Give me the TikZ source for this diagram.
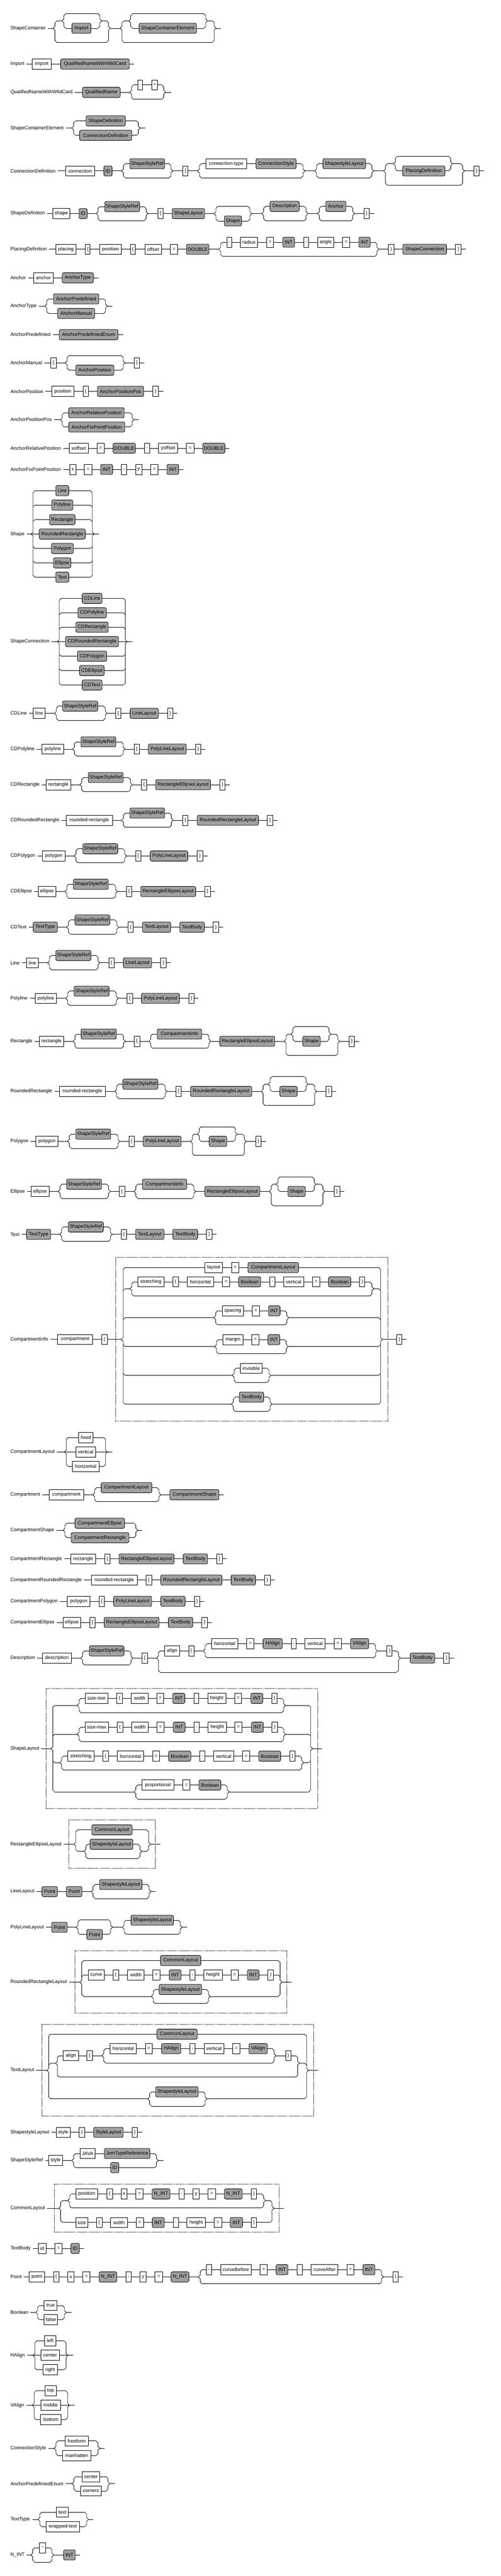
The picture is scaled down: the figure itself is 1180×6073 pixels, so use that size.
\documentclass[tikz,border=0pt]{standalone}
\usepackage{fontspec}
\setmainfont{Liberation Sans}
\definecolor{ntgray}{RGB}{160,160,160}
\newcounter{nd}
\newcommand\fs{\fontsize{11.5pt}{13pt}\selectfont}
\tikzset{
 ln/.style={line width=1pt},
 tm/.style={draw,line width=1pt,fill=white,minimum height=24pt,inner xsep=0.5pt,inner ysep=0pt,font=\fs},
 nt/.style={tm,fill=ntgray,rounded corners=3.5pt},
 lab/.style={anchor=west,inner sep=0pt,font=\fs},
 grp/.style={line width=0.8pt,dash pattern=on 2pt off 1.5pt}
}
\newcommand\Tb[4]{\stepcounter{nd}\pgfmathsetmacro\bw{#2-#1}\pgfmathsetmacro\bx{(#1+#2)/2}\node[tm,minimum width=\bw pt] (n\arabic{nd}) at (\bx,#3) {#4};}
\newcommand\Nb[4]{\stepcounter{nd}\pgfmathsetmacro\bw{#2-#1}\pgfmathsetmacro\bx{(#1+#2)/2}\node[nt,minimum width=\bw pt] (n\arabic{nd}) at (\bx,#3) {#4};}
\newcommand\Hl[3]{\draw[ln] (#1,#3) -- (#2,#3);}
\newcommand\Lab[3]{\stepcounter{nd}\edef\nm{lab\arabic{nd}}\node[lab] (\nm) at (24.5,#1) {#2};\draw[ln] ([xshift=5pt]\nm.east) -- (#3,#1);}
\newcommand\LBr[4]{\draw[ln] (#1+4.5,#3) -- (#1,#3+4.5) -- (#1,#2-4.5) -- (#1-4.5,#2) -- (#1,#2+4.5) -- (#1,#4-4.5) -- (#1+4.5,#4);}
\newcommand\RBr[4]{\draw[ln] (#1-4.5,#3) -- (#1,#3+4.5) -- (#1,#2-4.5) -- (#1+4.5,#2) -- (#1,#2+4.5) -- (#1,#4-4.5) -- (#1-4.5,#4);}
\newcommand\Brc[5]{\LBr{#1}{#3}{#4}{#5}\RBr{#2}{#3}{#4}{#5}}
\newcommand\Brl[5]{\Brc{#1}{#2}{#3}{#4}{#5}\Hl{#1+4.5}{#2-4.5}{#4}\Hl{#1+4.5}{#2-4.5}{#5}}
\newcommand\TkA[3]{\draw[ln] (#1+4.5,#3) -- (#1,#3+4.5); \draw[ln] (#2-4.5,#3) -- (#2,#3+4.5);}
\newcommand\TkB[3]{\draw[ln] (#1,#3-4.5) -- (#1+4.5,#3); \draw[ln] (#2,#3-4.5) -- (#2-4.5,#3);}
\newcommand\AltA[3]{\Hl{#1+4.5}{#2-4.5}{#3}\TkA{#1}{#2}{#3}}
\newcommand\AltB[3]{\Hl{#1+4.5}{#2-4.5}{#3}\TkB{#1}{#2}{#3}}
\newcommand\AltC[3]{\Hl{#1-4.5}{#2+4.5}{#3}}
\begin{document}
\begin{tikzpicture}[x=1pt,y=-1pt]
\fill[white] (0,0) rectangle (1180,6073);
\useasboundingbox (0,0) rectangle (1180,6073);
% ShapeContainer
\Lab{66.7}{ShapeContainer}{125}
\Brc{129.5}{255.7}{66.7}{49.3}{100}
\Hl{134}{146}{49.3}\Hl{239.8}{251.2}{49.3}\Hl{134}{251.2}{100}
\Brc{150.5}{235.3}{49.3}{32.3}{66.7}
\Hl{155}{230.8}{32.3}\Hl{155}{230.8}{66.7}
\Nb{169.6}{214.3}{66.7}{Import}
\Hl{260.2}{283.1}{66.7}
\Brc{287.6}{505}{66.7}{49.3}{100}
\Hl{292.1}{303.5}{49.3}\Hl{489.2}{500.5}{49.3}\Hl{292.1}{500.5}{100}
\Brc{308}{484.7}{49.3}{32.3}{66.7}
\Hl{312.5}{480.2}{32.3}\Hl{312.5}{480.2}{66.7}
\Nb{327.8}{463}{66.7}{ShapeContainerElement}
\Hl{509.5}{521}{66.7}
% Import
\Lab{151}{Import}{316.3}
\Tb{75.9}{121.2}{151}{import}
\Nb{142.9}{304.8}{151}{QualifiedNameWithWildCard}
% QualifiedNameWithWildCard
\Lab{217.7}{QualifiedNameWithWildCard}{305.5}
\Nb{194.5}{283.2}{217.7}{QualifiedName}
\Brl{310}{385.8}{217.7}{200.3}{234.3}
\Tb{324.6}{336.1}{200.3}{.}\Tb{357.8}{371.2}{200.3}{*}
\Hl{390.3}{403}{217.7}
% ShapeContainerElement
\Lab{302}{ShapeContainerElement}{169}
\Brl{173.5}{326}{302}{285}{319}
\Nb{202.8}{295.3}{285}{ShapeDefinition}
\Nb{187.5}{310.6}{319}{ConnectionDefinition}
\Hl{330.5}{342.5}{302}
% ConnectionDefinition
\Lab{403}{ConnectionDefinition}{286.3}
\Tb{154.3}{223.2}{403}{connection}
\Nb{244.9}{264}{403}{ID}
\Brl{290.8}{403}{403}{386}{419.3}
\Nb{306}{387.8}{386}{ShapeStyleRef}
\Hl{407.5}{465.5}{403}
\Tb{431}{443.2}{403}{\{}
\Brl{470}{714.2}{403}{386}{419.3}
\Tb{484.7}{581}{386}{connection-type}
\Nb{603.3}{697.7}{386}{ConnectionStyle}
\Hl{718.7}{741.3}{403}
\Brl{745.8}{876.3}{403}{386}{419.3}
\Nb{760.9}{861.3}{386}{ShapestyleLayout}
\Hl{880.8}{903.9}{403}
\Brc{908.4}{1090}{403}{386}{436.7}
\Hl{912.9}{927.2}{386}\Hl{1066.5}{1085.5}{386}\Hl{912.9}{1085.5}{436.7}
\Brc{931.7}{1062}{386}{368.7}{403}
\Hl{936.2}{1057.5}{368.7}\Hl{936.2}{1057.5}{403}
\Nb{948.7}{1048.3}{403}{PlacingDefinition}
\Hl{1094.5}{1140.5}{403}
\Tb{1116.3}{1129.4}{403}{\}}
% ShapeDefinition
\Lab{503.5}{ShapeDefinition}{226.4}
\Tb{124.4}{164.5}{503.5}{shape}
\Nb{186.2}{205.4}{503.5}{ID}
\Brl{230.9}{344.4}{503.5}{487}{520}
\Nb{246.8}{329}{487}{ShapeStyleRef}
\Hl{348.9}{504.5}{503.5}
\Tb{371.8}{384.6}{503.5}{\{}
\Nb{405.6}{482.1}{503.5}{ShapeLayout}
\Brl{509}{589}{503.5}{486.5}{521}
\Nb{528.7}{568.9}{521}{Shape}
\Hl{593.5}{616.8}{503.5}
\Brl{621.3}{721.3}{503.5}{486.5}{520.5}
\Nb{636.3}{705.1}{486.5}{Description}
\Hl{725.8}{748.1}{503.5}
\Brl{752.6}{831.3}{503.5}{486.5}{520.5}
\Nb{767.6}{815}{486.5}{Anchor}
\Hl{835.8}{881.5}{503.5}
\Tb{857.4}{870.4}{503.5}{\}}
% PlacingDefinition
\Lab{587.7}{PlacingDefinition}{515.3}
\Tb{131.4}{179.2}{587.7}{placing}
\Tb{201.5}{212.4}{587.7}{\{}
\Tb{234.7}{286.4}{587.7}{position}
\Tb{308}{318.9}{587.7}{(}
\Tb{341.2}{380.7}{587.7}{offset}
\Tb{401.8}{418.4}{587.7}{=}
\Nb{439.4}{492.3}{587.7}{DOUBLE}
\Brl{519.8}{888.2}{587.7}{571}{604.3}
\Tb{534.4}{545.3}{571}{,}
\Tb{566.3}{607.1}{571}{radius}
\Tb{628.2}{644.8}{571}{=}
\Nb{666.5}{693.9}{571}{INT}
\Tb{715.6}{727}{571}{,}
\Tb{748.7}{786.4}{571}{angle}
\Tb{807.4}{824}{571}{=}
\Nb{845.7}{872.4}{571}{INT}
\Hl{892.7}{1097.8}{587.7}
\Tb{915}{928.5}{587.7}{)}
\Nb{949.5}{1052.3}{587.7}{ShapeConnection}
\Tb{1073.2}{1086.7}{587.7}{\}}
% Anchor
\Lab{655}{Anchor}{231.5}
\Tb{79}{125.6}{655}{anchor}
\Nb{146.7}{220}{655}{AnchorType}
% AnchorType
\Lab{721.7}{AnchorType}{105.8}
\Brl{110.3}{248.7}{721.7}{704.7}{739}
\Nb{126.3}{232.8}{704.7}{AnchorPredefinied}
\Nb{135.8}{223.2}{739}{AnchorManual}
\Hl{253.2}{265.3}{721.7}
% AnchorPredefinied
\Lab{789}{AnchorPredefinied}{290.2}
\Nb{139.7}{278}{789}{AnchorPredefiniedEnum}
% AnchorManual
\Lab{855.3}{AnchorManual}{153.7}
\Tb{119.9}{132.7}{855.3}{\{}
\Brl{158.2}{290.2}{855.3}{838.3}{872.7}
\Nb{178.6}{268.5}{872.7}{AnchorPosition}
\Hl{294.7}{340.6}{855.3}
\Tb{316.3}{329}{855.3}{\}}
% AnchorPosition
\Lab{922.7}{AnchorPosition}{384.6}
\Tb{121.8}{174.1}{922.7}{position}
\Tb{195.8}{207.9}{922.7}{(}
\Nb{229.6}{338.6}{922.7}{AnchorPositionPos}
\Tb{360.3}{373.1}{922.7}{)}
% AnchorPositionPos
\Lab{989.3}{AnchorPositionPos}{142.2}
\Brl{146.7}{311.2}{989.3}{973}{1006.7}
\Nb{162}{292.7}{973}{AnchorRelativePosition}
\Nb{162}{294}{1006.7}{AnchorFixPointPosition}
\Hl{315.7}{326.5}{989.3}
% AnchorRelativePosition
\Lab{1056.7}{AnchorRelativePosition}{540.8}
\Tb{163.3}{207.9}{1056.7}{xoffset}
\Tb{228.3}{245.5}{1056.7}{=}
\Nb{266.6}{318.9}{1056.7}{DOUBLE}
\Tb{340.6}{352.7}{1056.7}{,}
\Tb{373.7}{418.4}{1056.7}{yoffset}
\Tb{439.4}{456.6}{1056.7}{=}
\Nb{477.7}{530}{1056.7}{DOUBLE}
% AnchorFixPointPosition
\Lab{1106.7}{AnchorFixPointPosition}{432.4}
\Tb{164.5}{178.6}{1106.7}{x}
\Tb{199}{216.2}{1106.7}{=}
\Nb{237.2}{265.3}{1106.7}{INT}
\Tb{285.7}{298.5}{1106.7}{,}
\Tb{319.5}{334.2}{1106.7}{y}
\Tb{355.2}{372.4}{1106.7}{=}
\Nb{393.5}{420.9}{1106.7}{INT}
% Shape
\Lab{1259}{Shape}{73.3}
\Brl{77.8}{217.5}{1259}{1156.7}{1360.7}
\AltA{77.8}{217.5}{1190.7}\AltA{77.8}{217.5}{1225}\AltC{77.8}{217.5}{1259}
\AltB{77.8}{217.5}{1293}\AltB{77.8}{217.5}{1327}
\Nb{131.4}{162}{1156.7}{Line}
\Nb{121.8}{171.6}{1190.7}{Polyline}
\Nb{116.7}{176.7}{1225}{Rectangle}
\Nb{92.5}{200.9}{1259}{RoundedRectangle}
\Nb{121.2}{172.8}{1293}{Polygon}
\Nb{126.3}{167.1}{1327}{Ellipse}
\Nb{131.4}{162}{1360.7}{Text}
\Hl{222}{233.4}{1259}
% ShapeConnection
\Lab{1512.7}{ShapeConnection}{135.2}
\Brl{139.7}{295.3}{1512.7}{1410.7}{1615}
\AltA{139.7}{295.3}{1444.7}\AltA{139.7}{295.3}{1478.7}\AltC{139.7}{295.3}{1512.7}
\AltB{139.7}{295.3}{1547}\AltB{139.7}{295.3}{1581}
\Nb{193.9}{240.4}{1410.7}{CDLine}
\Nb{183.7}{250.6}{1444.7}{CDPolyline}
\Nb{178.6}{255.1}{1478.7}{CDRectangle}
\Nb{154.3}{279.3}{1512.7}{CDRoundedRectangle}
\Nb{182.4}{251.3}{1547}{CDPolygon}
\Nb{187.5}{245.5}{1581}{CDEllipse}
\Nb{193.9}{240.4}{1615}{CDText}
\Hl{299.8}{311.9}{1512.7}
% CDLine
\Lab{1681.7}{CDLine}{128.2}
\Tb{78.4}{106.5}{1681.7}{line}
\Brl{132.7}{248.1}{1681.7}{1664.7}{1698}
\Nb{147.3}{230.2}{1664.7}{ShapeStyleRef}
\Hl{252.6}{418.4}{1681.7}
\Tb{272.3}{285}{1681.7}{\{}
\Nb{306.8}{373.1}{1681.7}{LineLayout}
\Tb{394.8}{407.5}{1681.7}{\}}
% CDPolyline
\Lab{1765.9}{CDPolyline}{170.9}
\Tb{98.9}{149.9}{1765.9}{polyline}
\Brl{175.4}{290.2}{1765.9}{1748.9}{1782}
\Nb{190.7}{273}{1748.9}{ShapeStyleRef}
\Hl{294.7}{484}{1765.9}
\Tb{315.7}{328.4}{1765.9}{\{}
\Nb{349.5}{438.8}{1765.9}{PolyLineLayout}
\Tb{460.5}{473.2}{1765.9}{\}}
% CDRectangle
\Lab{1850}{CDRectangle}{188.1}
\Tb{108.4}{166.5}{1850}{rectangle}
\Brl{192.6}{307.4}{1850}{1833}{1866.2}
\Nb{207.9}{290.2}{1833}{ShapeStyleRef}
\Hl{311.9}{542.1}{1850}
\Tb{332.9}{345.7}{1850}{\{}
\Nb{366.7}{496.2}{1850}{RectangleEllipseLayout}
\Tb{517.9}{530.6}{1850}{\}}
% CDRoundedRectangle
\Lab{1933.8}{CDRoundedRectangle}{286.3}
\Tb{156.3}{264.7}{1933.8}{rounded-rectangle}
\Brl{290.8}{403.7}{1933.8}{1916.8}{1950.4}
\Nb{306.1}{387.8}{1916.8}{ShapeStyleRef}
\Hl{408.2}{654.3}{1933.8}
\Tb{430.5}{443.2}{1933.8}{\{}
\Nb{464.9}{609}{1933.8}{RoundedRectangleLayout}
\Tb{630.1}{642.9}{1933.8}{\}}
% CDPolygon
\Lab{2018}{CDPolygon}{174.7}
\Tb{100.1}{153.1}{2018}{polygon}
\Brl{179.2}{294}{2018}{2001}{2034.2}
\Nb{195.2}{277.4}{2001}{ShapeStyleRef}
\Hl{298.5}{489.2}{2018}
\Tb{319.5}{332.3}{2018}{\{}
\Nb{354}{442.6}{2018}{PolyLineLayout}
\Tb{465}{477.7}{2018}{\}}
% CDEllipse
\Lab{2101.7}{CDEllipse}{153}
\Tb{89.9}{131.4}{2101.7}{ellipse}
\Brl{157.5}{272.3}{2101.7}{2084.7}{2117.9}
\Nb{172.8}{255.1}{2084.7}{ShapeStyleRef}
\Hl{276.8}{507}{2101.7}
\Tb{297.8}{310.6}{2101.7}{\{}
\Nb{331.6}{461.1}{2101.7}{RectangleEllipseLayout}
\Tb{482.8}{495.5}{2101.7}{\}}
% CDText
\Lab{2185.8}{CDText}{156.9}
\Nb{78.4}{135.2}{2185.8}{TextType}
\Brl{161.4}{275.5}{2185.8}{2168.9}{2202.3}
\Nb{176.7}{258.9}{2168.9}{ShapeStyleRef}
\Hl{280}{526.1}{2185.8}
\Tb{301.7}{314.4}{2185.8}{\{}
\Nb{335.5}{402.4}{2185.8}{TextLayout}
\Nb{423.5}{481.5}{2185.8}{TextBody}
\Tb{502.6}{515.3}{2185.8}{\}}
% Line
\Lab{2269.9}{Line}{112.2}
\Tb{62.5}{90.6}{2269.9}{line}
\Brl{116.7}{230.9}{2269.9}{2252.5}{2286.5}
\Nb{131.4}{214.3}{2252.5}{ShapeStyleRef}
\Hl{235.4}{402.4}{2269.9}
\Tb{256.4}{269.1}{2269.9}{\{}
\Nb{290.8}{357.1}{2269.9}{LineLayout}
\Tb{378.8}{391.6}{2269.9}{\}}
% Polyline
\Lab{2353.7}{Polyline}{154.9}
\Tb{82.9}{133.3}{2353.7}{polyline}
\Brl{159.4}{274.2}{2353.7}{2336.7}{2370.2}
\Nb{174.7}{257}{2336.7}{ShapeStyleRef}
\Hl{278.7}{468.1}{2353.7}
\Tb{299.7}{312.5}{2353.7}{\{}
\Nb{333.5}{422.8}{2353.7}{PolyLineLayout}
\Tb{444.5}{457.3}{2353.7}{\}}
% Rectangle
\Lab{2454.8}{Rectangle}{172.2}
\Tb{92.5}{150.5}{2454.8}{rectangle}
\Brl{176.7}{290.8}{2454.8}{2437.8}{2471.4}
\Nb{191.3}{274.2}{2437.8}{ShapeStyleRef}
\Hl{295.3}{350.7}{2454.8}
\Tb{316.3}{329.1}{2454.8}{\{}
\Brl{355.2}{492.3}{2454.8}{2437.8}{2471.4}
\Nb{370.5}{475.1}{2437.8}{CompartmentInfo}
\Hl{496.8}{669.6}{2454.8}
\Nb{517.9}{647.3}{2454.8}{RectangleEllipseLayout}
\Brc{674.1}{795.9}{2454.8}{2437.8}{2488.4}
\Hl{678.6}{685.5}{2437.8}\Hl{780}{791.4}{2437.8}\Hl{678.6}{791.4}{2488.4}
\Brc{690}{775.5}{2437.8}{2420.4}{2454.8}
\Hl{694.5}{771}{2420.4}\Hl{694.5}{771}{2454.8}
\Nb{713.6}{754.5}{2454.8}{Shape}
\Hl{800.4}{847}{2454.8}
\Tb{822.7}{835.5}{2454.8}{\}}
% RoundedRectangle
\Lab{2573}{RoundedRectangle}{270.4}
\Tb{140.3}{248.1}{2573}{rounded-rectangle}
\Brl{274.9}{389}{2573}{2556}{2589.6}
\Nb{289.5}{371.8}{2556}{ShapeStyleRef}
\Hl{393.5}{615.4}{2573}
\Tb{414.5}{427.3}{2573}{\{}
\Nb{449}{593.1}{2573}{RoundedRectangleLayout}
\Brc{619.9}{741.7}{2573}{2556}{2606.2}
\Hl{624.4}{632}{2556}\Hl{725.8}{737.2}{2556}\Hl{624.4}{737.2}{2606.2}
\Brc{636.5}{721.3}{2556}{2538.2}{2573}
\Hl{641}{716.8}{2538.2}\Hl{641}{716.8}{2573}
\Nb{659.4}{700.3}{2573}{Shape}
\Hl{746.2}{792.1}{2573}
\Tb{768.5}{781.3}{2573}{\}}
% Polygon
\Lab{2690.7}{Polygon}{158.8}
\Tb{84.2}{137.1}{2690.7}{polygon}
\Brl{163.3}{278.1}{2690.7}{2673.7}{2707.3}
\Nb{178.6}{260.8}{2673.7}{ShapeStyleRef}
\Hl{282.6}{448.9}{2690.7}
\Tb{303.6}{316.3}{2690.7}{\{}
\Nb{337.4}{426.7}{2690.7}{PolyLineLayout}
\Brc{453.4}{575.9}{2690.7}{2673.7}{2724}
\Hl{457.9}{464.9}{2673.7}\Hl{559.3}{571.4}{2673.7}\Hl{457.9}{571.4}{2724}
\Brc{469.4}{554.8}{2673.7}{2656.3}{2690.7}
\Hl{473.9}{550.3}{2656.3}\Hl{473.9}{550.3}{2690.7}
\Nb{493}{534.4}{2690.7}{Shape}
\Hl{580.4}{626.3}{2690.7}
\Tb{602.7}{615.4}{2690.7}{\}}
% Ellipse
\Lab{2808.9}{Ellipse}{137.1}
\Tb{73.3}{115.4}{2808.9}{ellipse}
\Brl{141.6}{255.7}{2808.9}{2791.9}{2825.3}
\Nb{156.9}{239.2}{2791.9}{ShapeStyleRef}
\Hl{260.2}{315.7}{2808.9}
\Tb{281.3}{294}{2808.9}{\{}
\Brl{320.2}{456.6}{2808.9}{2791.9}{2825.3}
\Nb{335.5}{440}{2791.9}{CompartmentInfo}
\Hl{461.1}{634.5}{2808.9}
\Nb{482.8}{612.2}{2808.9}{RectangleEllipseLayout}
\Brc{639}{760.8}{2808.9}{2791.9}{2842.3}
\Hl{643.5}{650.5}{2791.9}\Hl{744.9}{756.3}{2791.9}\Hl{643.5}{756.3}{2842.3}
\Brc{655}{740.4}{2791.9}{2774.5}{2808.9}
\Hl{659.5}{735.9}{2774.5}\Hl{659.5}{735.9}{2808.9}
\Nb{678.6}{719.4}{2808.9}{Shape}
\Hl{765.3}{811.2}{2808.9}
\Tb{787.6}{800.4}{2808.9}{\}}
% Text
\Lab{2909.9}{Text}{140.9}
\Nb{62.5}{119.3}{2909.9}{TextType}
\Brl{145.4}{260.2}{2909.9}{2892.5}{2926.5}
\Nb{160.7}{243.6}{2892.5}{ShapeStyleRef}
\Hl{264.7}{510.2}{2909.9}
\Tb{285.7}{298.5}{2909.9}{\{}
\Nb{319.5}{386.5}{2909.9}{TextLayout}
\Nb{407.5}{465.6}{2909.9}{TextBody}
\Tb{486.6}{499.4}{2909.9}{\}}
% CompartmentInfo
\draw[grp] (273,2964.2) rectangle (913.3,3350.2);
\Lab{3157.8}{CompartmentInfo}{285.7}
\Tb{135.8}{218.1}{3157.8}{compartment}
\Tb{239.8}{252.6}{3157.8}{(}
\Brc{290.2}{896.7}{3157.8}{2988.3}{3310.4}
\Hl{294.7}{892.2}{2988.3}
\Tb{482.8}{524.2}{2988.3}{layout}
\Tb{546}{562.5}{2988.3}{=}
\Nb{584.2}{703.4}{2988.3}{CompartmentLayout}
\TkA{290.2}{896.7}{3038}\Hl{294.7}{306.1}{3038}\Hl{880.8}{892.2}{3038}
\Brl{310.6}{876.3}{3038}{3021.9}{3055}
\Tb{324.6}{386.5}{3021.9}{stretching}
\Tb{407.5}{420.3}{3021.9}{(}
\Tb{441.3}{503.2}{3021.9}{horizontal}
\Tb{524.2}{541.5}{3021.9}{=}
\Nb{562.5}{614.2}{3021.9}{Boolean}
\Tb{635.8}{647.3}{3021.9}{,}
\Tb{668.4}{715.6}{3021.9}{vertical}
\Tb{736.6}{753.2}{3021.9}{=}
\Nb{774.2}{826.5}{3021.9}{Boolean}
\Tb{847.6}{859.7}{3021.9}{)}
\TkA{290.2}{896.7}{3106.4}\Hl{294.7}{503.8}{3106.4}\Hl{680.5}{892.2}{3106.4}
\Brl{508.3}{676}{3106.4}{3090.3}{3123.4}
\Tb{523.6}{573.3}{3090.3}{spacing}
\Tb{594.4}{611.6}{3090.3}{=}
\Nb{632.7}{660}{3090.3}{INT}
\TkB{290.2}{896.7}{3174.4}\Hl{294.7}{505.7}{3174.4}\Hl{679.2}{892.2}{3174.4}
\Brl{510.2}{674.7}{3174.4}{3158.3}{3191.4}
\Tb{525.5}{572}{3158.3}{margin}
\Tb{593.1}{610.3}{3158.3}{=}
\Nb{631.4}{659.4}{3158.3}{INT}
\TkB{290.2}{896.7}{3242.4}\Hl{294.7}{547.2}{3242.4}\Hl{638.5}{892.2}{3242.4}
\Brl{551.7}{634}{3242.4}{3225.8}{3259}
\Tb{566.3}{618}{3225.8}{invisible}
\Hl{294.7}{545.2}{3310.4}\Hl{641}{892.2}{3310.4}
\Brl{549.7}{636.5}{3310.4}{3293.8}{3327}
\Nb{563.8}{621.2}{3293.8}{TextBody}
\Hl{901.2}{958.5}{3157.8}
\Tb{935}{947}{3157.8}{)}
% CompartmentLayout
\Lab{3422.8}{CompartmentLayout}{151.8}
\Brl{156.3}{248.7}{3422.8}{3388.8}{3457}
\AltC{156.3}{248.7}{3422.8}
\Tb{185.6}{219.4}{3388.8}{fixed}
\Tb{178.6}{225.1}{3422.8}{vertical}
\Tb{170.9}{233.4}{3457}{horizontal}
\Hl{253.2}{265.3}{3422.8}
% Compartment
\Lab{3523.8}{Compartment}{218.7}
\Tb{115.4}{197.1}{3523.8}{compartment}
\Brl{223.2}{374.4}{3523.8}{3507.2}{3540.4}
\Nb{238.5}{357.8}{3507.2}{CompartmentLayout}
\Hl{378.9}{527.4}{3523.8}
\Nb{400.5}{516}{3523.8}{CompartmentShape}
% CompartmentShape
\Lab{3607.5}{CompartmentShape}{148.6}
\Brl{153.1}{320.2}{3607.5}{3591}{3625}
\Nb{176.7}{293.4}{3591}{CompartmentEllipse}
\Nb{167.7}{303.6}{3625}{CompartmentRectangle}
\Hl{324.7}{335.5}{3607.5}
% CompartmentRectangle
\Lab{3675.1}{CompartmentRectangle}{534.4}
\Tb{167.1}{225.1}{3675.1}{rectangle}
\Tb{246.8}{259.6}{3675.1}{\{}
\Nb{280.6}{410.1}{3675.1}{RectangleEllipseLayout}
\Nb{431.8}{489.2}{3675.1}{TextBody}
\Tb{510.8}{523.6}{3675.1}{\}}
% CompartmentRoundedRectangle
\Lab{3724.9}{CompartmentRoundedRectangle}{647.3}
\Tb{215.6}{323.3}{3724.9}{rounded-rectangle}
\Tb{344.4}{357.1}{3724.9}{\{}
\Nb{378.8}{523}{3724.9}{RoundedRectangleLayout}
\Nb{544.6}{602}{3724.9}{TextBody}
\Tb{623.7}{636.5}{3724.9}{\}}
% CompartmentPolygon
\Lab{3775}{CompartmentPolygon}{481.5}
\Tb{158.8}{212.4}{3775}{polygon}
\Tb{233.4}{246.2}{3775}{\{}
\Nb{267.9}{357.1}{3775}{PolyLineLayout}
\Nb{378.8}{436.2}{3775}{TextBody}
\Tb{457.9}{470.7}{3775}{\}}
% CompartmentEllipse
\Lab{3824.8}{CompartmentEllipse}{499.4}
\Tb{148.6}{190}{3824.8}{ellipse}
\Tb{211.7}{224.5}{3824.8}{\{}
\Nb{245.5}{375}{3824.8}{RectangleEllipseLayout}
\Nb{396.7}{454.1}{3824.8}{TextBody}
\Tb{475.8}{488.5}{3824.8}{\}}
% Description
\Lab{3908.9}{Description}{190}
\Tb{100.1}{168.4}{3908.9}{description}
\Brl{194.5}{308.7}{3908.9}{3892}{3925.1}
\Nb{210.5}{292.1}{3892}{ShapeStyleRef}
\Hl{313.2}{368.6}{3908.9}
\Tb{334.8}{347.6}{3908.9}{\{}
\Brc{373.1}{939}{3908.9}{3892}{3942.5}
\Hl{377.6}{478.9}{3892}\Hl{889.7}{934.5}{3892}\Hl{377.6}{934.5}{3942.5}
\Tb{388.4}{422.8}{3892}{align}
\Tb{444.5}{457.3}{3892}{(}
\Brl{483.4}{885.2}{3892}{3875}{3908.1}
\Tb{498.1}{560.6}{3875}{horizontal}
\Tb{581}{598.2}{3875}{=}
\Nb{619.9}{665.2}{3875}{HAlign}
\Tb{686.2}{697.7}{3875}{,}
\Tb{718.8}{766}{3875}{vertical}
\Tb{787.6}{804.2}{3875}{=}
\Nb{825.9}{868.6}{3875}{VAlign}
\Tb{912}{924.1}{3892}{)}
\Hl{943.5}{1070}{3908.9}
\Nb{966.7}{1024.3}{3908.9}{TextBody}
\Tb{1045.3}{1058.7}{3908.9}{\}}
% ShapeLayout
\draw[grp] (108.4,3980.7) rectangle (748.1,4264.1);
\Lab{4122.3}{ShapeLayout}{119.9}
\Brc{124.4}{732.1}{4122.3}{4020.5}{4224.3}
\Hl{128.9}{181.7}{4020.5}\Hl{672.9}{727.6}{4020.5}
\Brl{186.2}{668.4}{4020.5}{4003.9}{4037.5}
\Tb{200.3}{254.5}{4003.9}{size-min}
\Tb{275.5}{288.3}{4003.9}{(}
\Tb{309.3}{348.9}{4003.9}{width}
\Tb{369.3}{385.8}{4003.9}{=}
\Nb{406.9}{435.6}{4003.9}{INT}
\Tb{456.6}{468.1}{4003.9}{,}
\Tb{489.8}{531.9}{4003.9}{height}
\Tb{552.9}{569.5}{4003.9}{=}
\Nb{591.2}{619.3}{4003.9}{INT}
\Tb{640.3}{653.1}{4003.9}{)}
\TkA{124.4}{732.1}{4088.5}\Hl{128.9}{181.7}{4088.5}\Hl{672.9}{727.6}{4088.5}
\Brl{186.2}{668.4}{4088.5}{4071.9}{4105.3}
\Tb{200.3}{255.1}{4071.9}{size-max}
\Tb{276.2}{289}{4071.9}{(}
\Tb{310}{349.6}{4071.9}{width}
\Tb{370}{386.5}{4071.9}{=}
\Nb{408.2}{436.2}{4071.9}{INT}
\Tb{457.3}{468.8}{4071.9}{,}
\Tb{490.4}{533.2}{4071.9}{height}
\Tb{553.6}{570.2}{4071.9}{=}
\Nb{592.5}{620.5}{4071.9}{INT}
\Tb{641}{653.7}{4071.9}{)}
\TkB{124.4}{732.1}{4155.5}\Hl{128.9}{140.9}{4155.5}\Hl{715.6}{727.6}{4155.5}
\Brl{145.4}{711.1}{4155.5}{4140.2}{4172.9}
\Tb{159.4}{221.3}{4140.2}{stretching}
\Tb{242.3}{255.1}{4140.2}{(}
\Tb{276.1}{338.6}{4140.2}{horizontal}
\Tb{359.7}{376.3}{4140.2}{=}
\Nb{397.3}{449.6}{4140.2}{Boolean}
\Tb{470.7}{482.1}{4140.2}{,}
\Tb{503.8}{550.4}{4140.2}{vertical}
\Tb{571.4}{588}{4140.2}{=}
\Nb{609.7}{661.4}{4140.2}{Boolean}
\Tb{683}{695.2}{4140.2}{)}
\Hl{128.9}{315.7}{4224.3}\Hl{540.2}{727.6}{4224.3}
\Brl{320.2}{535.7}{4224.3}{4208.2}{4241.3}
\Tb{334.8}{409.4}{4208.2}{proportional}
\Tb{430.5}{447.1}{4208.2}{=}
\Nb{468.8}{520.4}{4208.2}{Boolean}
\Hl{736.6}{758.9}{4122.3}
% RectangleEllipseLayout
\draw[grp] (161.4,4290.2) rectangle (366.1,4404.3);
\Lab{4347.9}{RectangleEllipseLayout}{174.1}
\Brc{178.6}{350.1}{4347.9}{4313.9}{4364.5}
\Hl{183.1}{345.6}{4313.9}
\Nb{216.2}{311.2}{4313.9}{CommonLayout}
\Hl{183.1}{197.7}{4364.5}\Hl{334.2}{345.6}{4364.5}
\Brl{202.2}{329.7}{4364.5}{4347.9}{4381.5}
\Nb{212.4}{313.1}{4347.9}{ShapestyleLayout}
\Hl{354.6}{377.6}{4347.9}
% LineLayout
\Lab{4459.4}{LineLayout}{214.9}
\Nb{98.9}{135.2}{4459.4}{Point}
\Nb{156.3}{193.2}{4459.4}{Point}
\Brl{219.4}{351.4}{4459.4}{4442.8}{4476}
\Nb{234.7}{334.8}{4442.8}{ShapestyleLayout}
\Hl{355.9}{367.3}{4459.4}
% PolyLineLayout
\Lab{4543.6}{PolyLineLayout}{179.2}
\Nb{121.8}{158.2}{4543.6}{Point}
\Brl{183.7}{260.8}{4543.6}{4526.6}{4560.6}
\Nb{204.7}{241.1}{4560.6}{Point}
\Hl{265.3}{288.2}{4543.6}
\Brl{292.7}{424.7}{4543.6}{4527}{4560.1}
\Nb{308.7}{408.8}{4527}{ShapestyleLayout}
\Hl{429.2}{441.3}{4543.6}
% RoundedRectangleLayout
\draw[grp] (176.7,4598.3) rectangle (676,4746);
\Lab{4672.9}{RoundedRectangleLayout}{188.1}
\Brc{192.6}{660}{4672.9}{4622}{4706.5}
\Hl{197.1}{655.5}{4622}
\Nb{378.2}{473.2}{4622}{CommonLayout}
\AltA{192.6}{660}{4655.9}
\Tb{207.9}{245.5}{4655.9}{curve}
\Tb{266.6}{279.3}{4655.9}{(}
\Tb{300.4}{339.9}{4655.9}{width}
\Tb{360.3}{376.9}{4655.9}{=}
\Nb{398.6}{426.7}{4655.9}{INT}
\Tb{447.7}{459.2}{4655.9}{,}
\Tb{480.2}{523.6}{4655.9}{height}
\Tb{544.6}{561.2}{4655.9}{=}
\Nb{582.9}{610.3}{4655.9}{INT}
\Tb{631.4}{644.1}{4655.9}{)}
\Hl{197.1}{356.5}{4706.5}\Hl{495.6}{655.5}{4706.5}
\Brl{361}{491.1}{4706.5}{4690.3}{4723.1}
\Nb{375}{475.1}{4690.3}{ShapestyleLayout}
\Hl{664.5}{687.5}{4672.9}
% TextLayout
\draw[grp] (98.9,4772.5) rectangle (738.5,4988.5);
\Lab{4880.9}{TextLayout}{110.3}
\Brc{114.8}{722.6}{4880.9}{4795.5}{4948.1}
\Hl{119.3}{718.1}{4795.5}
\Nb{369.9}{464.9}{4795.5}{CommonLayout}
\TkA{114.8}{722.6}{4864}\Hl{119.3}{130.7}{4864}\Hl{706}{718.1}{4864}
\Brc{135.2}{701.5}{4864}{4846.2}{4897}
\Hl{139.7}{239.8}{4846.2}\Hl{650.5}{697}{4846.2}\Hl{139.7}{697}{4897}
\Tb{149.2}{185}{4846.2}{align}
\Tb{204.7}{217.5}{4846.2}{(}
\Brl{244.3}{646}{4846.2}{4829.7}{4863.6}
\Tb{259.6}{321.4}{4829.7}{horizontal}
\Tb{342.5}{359.1}{4829.7}{=}
\Nb{380.7}{426}{4829.7}{HAlign}
\Tb{447.7}{459.2}{4829.7}{,}
\Tb{480.9}{527.4}{4829.7}{vertical}
\Tb{548.5}{565.1}{4829.7}{=}
\Nb{586.7}{630.1}{4829.7}{VAlign}
\Tb{672.8}{685.6}{4846.2}{)}
\Hl{119.3}{348.2}{4948.1}\Hl{487.9}{718.1}{4948.1}
\Brl{352.7}{483.4}{4948.1}{4931.6}{4965.5}
\Nb{366.7}{466.8}{4931.6}{ShapestyleLayout}
\Hl{727.1}{749.4}{4880.9}
% ShapestyleLayout
\Lab{5027}{ShapestyleLayout}{335.5}
\Tb{132.7}{165.2}{5027}{style}
\Tb{186.9}{199.6}{5027}{(}
\Nb{220.7}{290.2}{5027}{StyleLayout}
\Tb{311.2}{324}{5027}{)}
% ShapeStyleRef
\Lab{5093.4}{ShapeStyleRef}{169}
\Tb{114.8}{147.3}{5093.4}{style}
\Brl{173.5}{368.6}{5093.4}{5076.9}{5110.3}
\Tb{188.8}{224.5}{5076.9}{JAVA}
\Nb{246.2}{353.3}{5076.9}{JvmTypeReference}
\Nb{260.8}{280}{5110.3}{ID}
\Hl{373.1}{385.2}{5093.4}
% CommonLayout
\draw[grp] (127.6,5148.5) rectangle (657.5,5262.5);
\Lab{5205.7}{CommonLayout}{138.4}
\Brc{142.9}{641}{5205.7}{5187.5}{5239.5}
\Hl{147.4}{159.4}{5187.5}\Hl{625.7}{636.5}{5187.5}
\Brl{163.9}{621.2}{5187.5}{5172.3}{5205.3}
\Tb{178.6}{230.2}{5172.3}{position}
\Tb{251.9}{264.7}{5172.3}{(}
\Tb{285.7}{299.1}{5172.3}{x}
\Tb{320.2}{337.4}{5172.3}{=}
\Nb{358.4}{400.5}{5172.3}{N\_INT}
\Tb{421.6}{433.7}{5172.3}{,}
\Tb{454.7}{469.4}{5172.3}{y}
\Tb{490.4}{507.7}{5172.3}{=}
\Nb{528.7}{570.8}{5172.3}{N\_INT}
\Tb{591.8}{604.6}{5172.3}{)}
\Hl{147.4}{636.5}{5239.5}
\Tb{178.6}{206.6}{5239.5}{size}
\Tb{227.7}{240.4}{5239.5}{(}
\Tb{260.8}{300.4}{5239.5}{width}
\Tb{320.8}{338}{5239.5}{=}
\Nb{359}{387.1}{5239.5}{INT}
\Tb{408.2}{420.9}{5239.5}{,}
\Tb{440.7}{484.1}{5239.5}{height}
\Tb{505.1}{522.3}{5239.5}{=}
\Nb{542.7}{571.4}{5239.5}{INT}
\Tb{591.8}{604.6}{5239.5}{)}
\Hl{645.5}{669}{5205.7}
% TextBody
\Lab{5300.7}{TextBody}{198.3}
\Tb{89.9}{108.4}{5300.7}{id}
\Tb{128.8}{146}{5300.7}{=}
\Nb{167.1}{186.9}{5300.7}{ID}
% Point
\Lab{5367.9}{Point}{467.4}
\Tb{68.2}{105.2}{5367.9}{point}
\Tb{126.3}{139}{5367.9}{(}
\Tb{160.1}{174.1}{5367.9}{x}
\Tb{195.2}{212.4}{5367.9}{=}
\Nb{233.4}{275.5}{5367.9}{N\_INT}
\Tb{296.6}{309.3}{5367.9}{,}
\Tb{329.7}{344.4}{5367.9}{y}
\Tb{365.4}{382.7}{5367.9}{=}
\Nb{403.1}{445.2}{5367.9}{N\_INT}
\Brl{471.9}{899.2}{5367.9}{5350.6}{5384}
\Tb{486.6}{498.1}{5350.6}{,}
\Tb{519.8}{591.8}{5350.6}{curveBefore}
\Tb{612.9}{630.1}{5350.6}{=}
\Nb{650.5}{678.6}{5350.6}{INT}
\Tb{699.6}{711.7}{5350.6}{,}
\Tb{732.8}{796.6}{5350.6}{curveAfter}
\Tb{817.6}{834.2}{5350.6}{=}
\Nb{855.2}{883.3}{5350.6}{INT}
\Hl{903.7}{949.6}{5367.9}
\Tb{926}{938.1}{5367.9}{)}
% Boolean
\Lab{5451.5}{Boolean}{84.1}
\Brl{88.6}{151.8}{5451.5}{5435.2}{5468.7}
\Tb{104}{134.6}{5435.2}{true}
\Tb{104}{135.8}{5468.7}{false}
\Hl{156.3}{168.4}{5451.5}
% HAlign
\Lab{5552.8}{HAlign}{77.8}
\Brl{82.3}{155.6}{5552.8}{5518.5}{5586.7}
\AltC{82.3}{155.6}{5552.8}
\Tb{105.2}{131.4}{5518.5}{left}
\Tb{96.9}{139.7}{5552.8}{center}
\Tb{101.4}{135.2}{5586.7}{right}
\Hl{160.1}{172.2}{5552.8}
% VAlign
\Lab{5670.4}{VAlign}{75.9}
\Brl{80.4}{159.4}{5670.4}{5636.5}{5704.3}
\AltC{80.4}{159.4}{5670.4}
\Tb{105.9}{132.7}{5636.5}{top}
\Tb{96.3}{142.2}{5670.4}{middle}
\Tb{95.7}{144.1}{5704.3}{bottom}
\Hl{163.9}{176.7}{5670.4}
% ConnectionStyle
\Lab{5771.7}{ConnectionStyle}{127.5}
\Brl{132}{230.9}{5771.7}{5754.5}{5788.8}
\Tb{153.1}{208.5}{5754.5}{freeform}
\Tb{147.3}{214.3}{5788.8}{manhatten}
\Hl{235.4}{246.8}{5771.7}
% AnchorPredefiniedEnum
\Lab{5855.4}{AnchorPredefiniedEnum}{169.6}
\Brl{174.1}{254.5}{5855.4}{5838.6}{5872.5}
\Tb{193.2}{235.3}{5838.6}{center}
\Tb{190}{238.5}{5872.5}{corners}
\Hl{259}{271}{5855.4}
% TextType
\Lab{5939.5}{TextType}{89.3}
\Brl{93.8}{204.1}{5939.5}{5922.3}{5956.7}
\Tb{133.3}{160.7}{5922.3}{text}
\Tb{108.4}{187.5}{5956.7}{wrapped-text}
\Hl{208.6}{220}{5939.5}
% N_INT
\Lab{6023.2}{N\_INT}{72.7}
\Brl{77.2}{122.4}{6023.2}{6006.4}{6040.3}
\Tb{93.1}{107.8}{6006.4}{-}
\Hl{126.9}{188.8}{6023.2}
\Nb{149.9}{177.3}{6023.2}{INT}
\end{tikzpicture}
\end{document}
